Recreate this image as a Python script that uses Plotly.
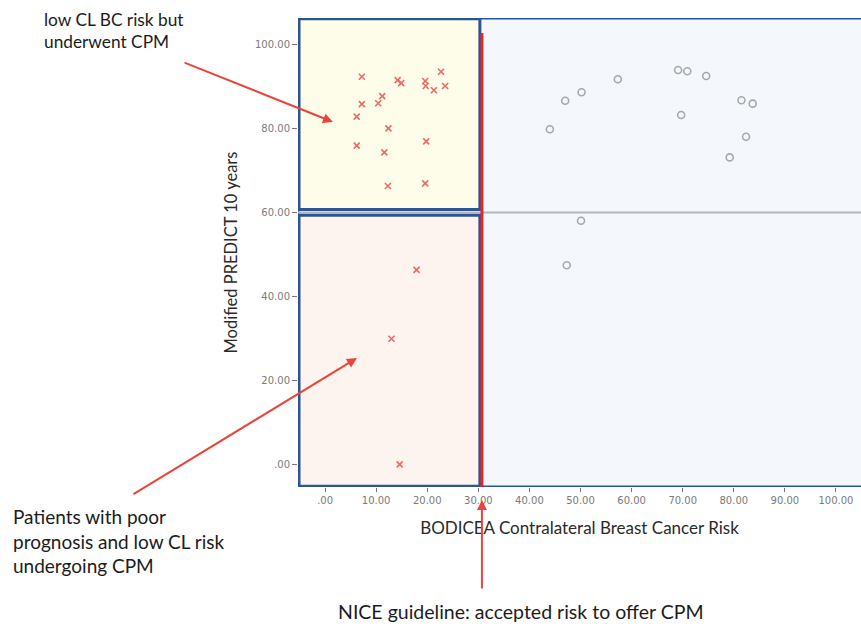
import plotly.graph_objects as go

# Data
low_x = [7.2, 14.2, 14.9, 19.6, 19.7, 22.7, 21.3, 23.5, 11.2, 7.2, 10.4, 6.2, 12.4, 6.2, 19.8, 11.6, 12.3, 19.6,
         17.9, 13.0, 14.6]
low_y = [92.3, 91.5, 90.8, 91.3, 90.1, 93.5, 89.1, 90.1, 87.7, 85.8, 86.0, 82.8, 80.0, 75.9, 76.9, 74.3, 66.3, 66.9,
         46.3, 29.9, 0.0]
high_x = [44.0, 47.0, 50.2, 57.3, 69.1, 70.9, 74.6, 69.7, 81.5, 83.7, 82.4, 79.2, 50.1, 47.3]
high_y = [79.8, 86.6, 88.6, 91.7, 93.9, 93.6, 92.5, 83.2, 86.7, 85.9, 78.0, 73.1, 58.0, 47.4]

tick_vals = [0, 10, 20, 30, 40, 50, 60, 70, 80, 90, 100]
x_tick_text = [".00", "10.00", "20.00", "30.00", "40.00", "50.00", "60.00", "70.00", "80.00", "90.00", "100.00"]
y_tick_vals = [0, 20, 40, 60, 80, 100]
y_tick_text = [".00", "20.00", "40.00", "60.00", "80.00", "100.00"]

nice_threshold = 30.3
prognosis_threshold = 60

XMIN, XMAX = -5.3, 104.9
YMIN, YMAX = -5.4, 106.3

BLUE = "#2d5593"
RED = "#e8453c"
FONT = "Lato"
TXT = "#1c1c1c"

fig = go.Figure()

fig.add_trace(go.Scatter(
    x=low_x, y=low_y, mode="markers",
    marker=dict(symbol="x-thin", size=6, line=dict(color="#ec6a64", width=1.6)),
    showlegend=False, hoverinfo="skip"))
fig.add_trace(go.Scatter(
    x=high_x, y=high_y, mode="markers",
    marker=dict(symbol="circle-open", size=7, color="#a8a8a8", line=dict(color="#a8a8a8", width=1.6)),
    showlegend=False, hoverinfo="skip"))

shapes = []
# whole plot region (light blue)
shapes.append(dict(type="rect", xref="x", yref="y", x0=XMIN, x1=XMAX + 2, y0=YMIN, y1=YMAX,
                   fillcolor="#f4f8fc", line=dict(color=BLUE, width=3), layer="below"))
# grey horizontal line at 60
shapes.append(dict(type="line", xref="x", yref="y", x0=XMIN, x1=XMAX + 2, y0=prognosis_threshold,
                   y1=prognosis_threshold, line=dict(color="#b4b8bc", width=2), layer="below"))
# yellow box
shapes.append(dict(type="rect", xref="x", yref="y", x0=XMIN + 0.2, x1=nice_threshold, y0=prognosis_threshold + 0.7,
                   y1=YMAX - 0.2, fillcolor="#fefde9", line=dict(color=BLUE, width=3), layer="below"))
# pink box
shapes.append(dict(type="rect", xref="x", yref="y", x0=XMIN + 0.2, x1=nice_threshold, y0=YMIN + 0.2,
                   y1=prognosis_threshold - 0.7, fillcolor="#fdf4ef", line=dict(color=BLUE, width=3), layer="below"))
# red vertical NICE line
shapes.append(dict(type="line", xref="x", yref="y", x0=nice_threshold + 0.4, x1=nice_threshold + 0.4, y0=YMIN,
                   y1=102.7, line=dict(color="#e02a2a", width=3), layer="above"))

annotations = [
    dict(xref="paper", yref="paper", x=(42 - 298) / 563, y=(487 - 7) / 469, xanchor="left", yanchor="top",
         align="left", showarrow=False, text="low CL BC risk but<br>underwent CPM",
         font=dict(family=FONT, size=17.3, color=TXT)),
    dict(xref="paper", yref="paper", x=(11 - 298) / 563, y=(487 - 503) / 469, xanchor="left", yanchor="top",
         align="left", showarrow=False, text="Patients with poor<br>prognosis and low CL risk<br>undergoing CPM",
         font=dict(family=FONT, size=19, color=TXT)),
    dict(xref="paper", yref="paper", x=(521 - 298) / 563, y=(487 - 611) / 469, xanchor="center", yanchor="middle",
         showarrow=False, text="NICE guideline: accepted risk to offer CPM",
         font=dict(family=FONT, size=19.5, color=TXT)),
    # arrows
    dict(xref="paper", yref="paper", x=(333 - 298) / 563, y=(487 - 122) / 469, ax=-150, ay=-60, text="",
         showarrow=True, arrowhead=2, arrowsize=1, arrowwidth=2, arrowcolor=RED),
    dict(xref="paper", yref="paper", x=(357 - 298) / 563, y=(487 - 358) / 469, ax=-225, ay=137, text="",
         showarrow=True, arrowhead=2, arrowsize=1, arrowwidth=2, arrowcolor=RED),
    dict(xref="x", yref="paper", x=nice_threshold + 0.4, y=(487 - 500) / 469, ax=0, ay=90, text="",
         showarrow=True, arrowhead=2, arrowsize=1, arrowwidth=2, arrowcolor=RED),
]

fig.update_layout(
    width=861, height=627,
    margin=dict(l=298, r=0, t=18, b=140),
    paper_bgcolor="white", plot_bgcolor="white",
    shapes=shapes, annotations=annotations,
    xaxis=dict(range=[XMIN, XMAX], tickvals=tick_vals, ticktext=x_tick_text, showgrid=False, zeroline=False,
               ticks="outside", ticklen=4, tickcolor="#777777", showline=False,
               tickfont=dict(family="DejaVu Sans", size=10, color="#7a7a7a"),
               title=dict(text="BODICEA Contralateral Breast Cancer Risk", standoff=17,
                          font=dict(family=FONT, size=17, color="#2a2a2a"))),
    yaxis=dict(range=[YMIN, YMAX], tickvals=y_tick_vals, ticktext=y_tick_text, showgrid=False, zeroline=False,
               ticks="outside", ticklen=5, tickcolor="#777777", showline=False,
               tickfont=dict(family="DejaVu Sans", size=10, color="#7a7a7a"),
               title=dict(text="Modified PREDICT 10 years", standoff=13,
                          font=dict(family=FONT, size=16.5, color="#2a2a2a"))),
)

fig.write_html("out.html")
